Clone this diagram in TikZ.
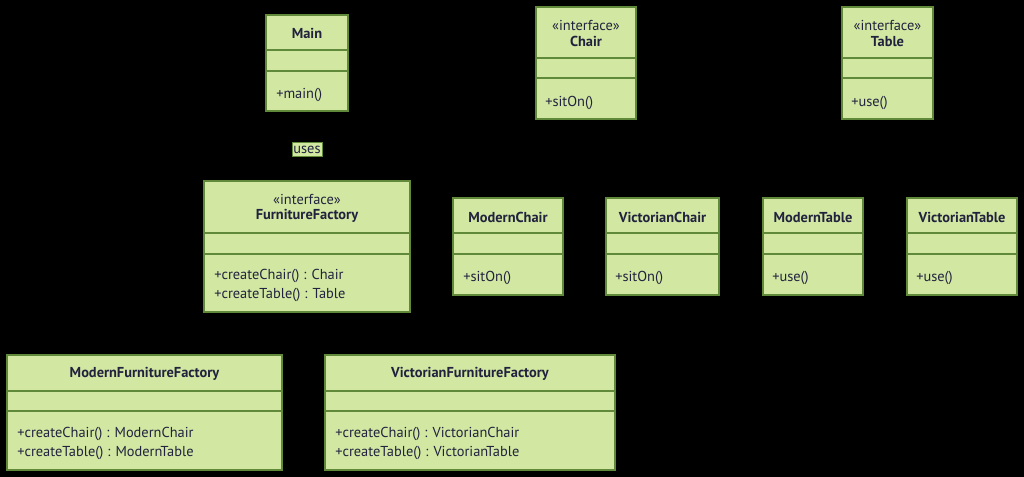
\documentclass[tikz,border=0pt]{standalone}
\usepackage{fontspec}
\setmainfont{PT Sans}
\definecolor{clsfill}{RGB}{209,231,162}
\definecolor{clsline}{RGB}{96,138,58}
\definecolor{clstext}{RGB}{34,34,62}
\tikzset{
  cls/.style={draw=clsline, fill=clsfill, line width=0.9pt, inner sep=0pt},
  divline/.style={draw=clsline, line width=0.9pt},
  title/.style={text=clstext, font=\fontsize{10.8}{12}\selectfont\bfseries, inner sep=0pt, yshift=-1pt},
  stereo/.style={text=clstext, font=\fontsize{10.8}{12}\selectfont, inner sep=0pt, yshift=-1pt},
  member/.style={text=clstext, font=\fontsize{10.8}{12}\selectfont, inner sep=0pt, anchor=west, yshift=-1pt},
  lbl/.style={fill=clsfill, draw=clsline, line width=0.4pt, text=clstext, font=\fontsize{10.8}{12}\selectfont, inner xsep=1pt, inner ysep=2.2pt},
  conn/.style={draw=black, line width=0.9pt}
}
\newcommand{\umlbox}[7]{%
  \node[cls, minimum width={(#4-#2)*0.75pt}, minimum height={(#5-#3)*0.75pt}] (#1) at ({(#2+#4)/2},{(#3+#5)/2}) {};
  \draw[divline] (#2,#6) -- (#4,#6);
  \draw[divline] (#2,#7) -- (#4,#7);
}
\begin{document}
\begin{tikzpicture}[x=0.75pt,y=-0.75pt]
\fill[black] (0,0) rectangle (1024,477);
\useasboundingbox (0,0) rectangle (1024,477);

% Main
\umlbox{main}{266}{15}{348}{111}{50}{71}
\node[title] (mainT) at (307,32) {Main};
\node[member] (mainM) at (276,94) {+main()};

% Chair interface
\umlbox{chair}{536}{7}{636}{119}{58}{78}
\node[stereo] (chairS) at (586,24) {«interface»};
\node[title] (chairT) at (586,40) {Chair};
\node[member] (chairM) at (545,102) {+sitOn()};

% Table interface
\umlbox{table}{842}{7}{933}{119}{58}{78}
\node[stereo] (tableS) at (887.5,24) {«interface»};
\node[title] (tableT) at (887.5,40) {Table};
\node[member] (tableM) at (851,102) {+use()};

% FurnitureFactory
\umlbox{ff}{204}{181}{410}{312}{233}{254}
\node[stereo] (ffS) at (307,198) {«interface»};
\node[title] (ffT) at (307,215) {FurnitureFactory};
\node[member] (ffM1) at (214,275) {+createChair() : Chair};
\node[member] (ffM2) at (214,294) {+createTable() : Table};

% ModernChair
\umlbox{mchair}{453}{198}{563}{295}{233}{254}
\node[title] (mchairT) at (508,216) {ModernChair};
\node[member] (mchairM) at (463,277) {+sitOn()};

% VictorianChair
\umlbox{vchair}{606}{198}{719}{295}{233}{254}
\node[title] (vchairT) at (662.5,216) {VictorianChair};
\node[member] (vchairM) at (615,277) {+sitOn()};

% ModernTable
\umlbox{mtable}{763}{198}{863}{295}{233}{254}
\node[title] (mtableT) at (813,216) {ModernTable};
\node[member] (mtableM) at (772,277) {+use()};

% VictorianTable
\umlbox{vtable}{907}{198}{1017}{295}{233}{254}
\node[title] (vtableT) at (962,216) {VictorianTable};
\node[member] (vtableM) at (916,277) {+use()};

% ModernFurnitureFactory
\umlbox{mff}{7}{355}{282}{470}{391}{411}
\node[title] (mffT) at (144.5,373) {ModernFurnitureFactory};
\node[member] (mffM1) at (17,433) {+createChair() : ModernChair};
\node[member] (mffM2) at (17,452) {+createTable() : ModernTable};

% VictorianFurnitureFactory
\umlbox{vff}{325}{355}{615}{470}{391}{411}
\node[title] (vffT) at (470,373) {VictorianFurnitureFactory};
\node[member] (vffM1) at (335,433) {+createChair() : VictorianChair};
\node[member] (vffM2) at (335,452) {+createTable() : VictorianTable};

% uses connector (black on black)
\draw[conn] (main.south) -- node[lbl, pos=0.55] (usesL) {uses} (ff.north);
\end{tikzpicture}
\end{document}
